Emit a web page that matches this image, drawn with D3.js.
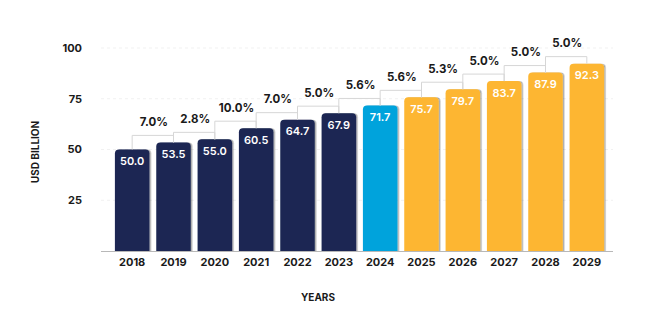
<!DOCTYPE html>
<html>
<head>
<meta charset="utf-8">
<script src="https://cdn.jsdelivr.net/npm/d3@7"></script>
<style>
  body { margin: 0; background: #fff; }
  text { font-family: Inter, "Noto Sans", sans-serif; }
</style>
</head>
<body>
<div class="chart"></div>
<script>
// data
var years = ["2018","2019","2020","2021","2022","2023","2024","2025","2026","2027","2028","2029"];
var values = [50.0, 53.5, 55.0, 60.5, 64.7, 67.9, 71.7, 75.7, 79.7, 83.7, 87.9, 92.3];
var growth = ["7.0%","2.8%","10.0%","7.0%","5.0%","5.6%","5.6%","5.3%","5.0%","5.0%","5.0%"];
var kinds = ["hist","hist","hist","hist","hist","hist","current","forecast","forecast","forecast","forecast","forecast"];
var yTicks = [25, 50, 75, 100];

var colors = {hist: "#1b2653", current: "#00a3dc", forecast: "#fdb632"};

var width = 648, height = 321;

var svg = d3.select(".chart")
            .append("svg")
            .attr("width", width)
            .attr("height", height);

// soft shadow on the bars
var defs = svg.append("defs");
var f = defs.append("filter").attr("id", "sh")
            .attr("x", "-10%").attr("y", "-10%").attr("width", "130%").attr("height", "130%");
f.append("feDropShadow")
 .attr("dx", 1.5).attr("dy", 0).attr("stdDeviation", 0.6)
 .attr("flood-color", "#000").attr("flood-opacity", 0.35);

var x = d3.scaleBand()
          .domain(years)
          .range([111.5, 607.5])
          .paddingInner(0.165)
          .paddingOuter(0.0825);

var y = d3.scaleLinear()
          .domain([0, 100])
          .range([251, 48]);

// gridlines
svg.append("g")
   .selectAll("line")
   .data(yTicks)
   .join("line")
   .attr("x1", 101).attr("x2", 613)
   .attr("y1", d => y(d)).attr("y2", d => y(d))
   .attr("stroke", "#f1f1f1")
   .attr("stroke-dasharray", "3,3");

// y tick labels
svg.append("g")
   .selectAll("text")
   .data(yTicks)
   .join("text")
   .attr("x", 82)
   .attr("y", d => y(d))
   .attr("dy", "0.35em")
   .attr("text-anchor", "end")
   .style("font-size", "11px")
   .style("font-weight", 700)
   .attr("fill", "#1a1a1a")
   .text(d => d);

// bars with rounded tops
function barPath(d, i) {
  var x0 = x(d), w = x.bandwidth(), y0 = y(values[i]), yb = y(0), r = 4;
  return "M" + x0 + "," + yb +
         "V" + (y0 + r) +
         "Q" + x0 + "," + y0 + " " + (x0 + r) + "," + y0 +
         "H" + (x0 + w - r) +
         "Q" + (x0 + w) + "," + y0 + " " + (x0 + w) + "," + (y0 + r) +
         "V" + yb + "Z";
}

svg.append("g")
   .selectAll("path")
   .data(years)
   .join("path")
   .attr("d", barPath)
   .attr("fill", (d, i) => colors[kinds[i]])
   .attr("filter", "url(#sh)");

// value labels inside bars
svg.append("g")
   .selectAll("text")
   .data(years)
   .join("text")
   .attr("x", d => x(d) + x.bandwidth() / 2)
   .attr("y", (d, i) => y(values[i]) + 15.5)
   .attr("text-anchor", "middle")
   .style("font-size", "11px")
   .style("font-weight", 600)
   .attr("fill", "#fff")
   .text((d, i) => values[i].toFixed(1));

// growth brackets
var pairs = growth.map((g, i) => ({g: g, a: years[i], b: years[i + 1], va: values[i], vb: values[i + 1]}));
var cx = d => x(d) + x.bandwidth() / 2;

var br = svg.append("g");
pairs.forEach(function(p) {
  var lvl = y(Math.max(p.va, p.vb)) - 7;
  br.append("path")
    .attr("d", "M" + cx(p.a) + "," + y(p.va) + "V" + lvl + "H" + cx(p.b) + "V" + y(p.vb))
    .attr("fill", "none")
    .attr("stroke", "#d6d6d6")
    .attr("stroke-width", 1);
  br.append("text")
    .attr("x", (cx(p.a) + cx(p.b)) / 2 + 1)
    .attr("y", lvl - 9.5)
    .attr("text-anchor", "middle")
    .style("font-size", "11.5px")
    .style("font-weight", 700)
    .attr("fill", "#1a1a1a")
    .text(p.g);
});

// baseline
svg.append("line")
   .attr("x1", 101).attr("x2", 613)
   .attr("y1", y(0) + 0.5).attr("y2", y(0) + 0.5)
   .attr("stroke", "#b8b8b8");

// x labels
svg.append("g")
   .selectAll("text")
   .data(years)
   .join("text")
   .attr("x", d => cx(d))
   .attr("y", 266)
   .attr("text-anchor", "middle")
   .style("font-size", "11px")
   .style("font-weight", 700)
   .attr("fill", "#1a1a1a")
   .text(d => d);

// axis titles
svg.append("text")
   .attr("x", 318).attr("y", 301)
   .attr("text-anchor", "middle")
   .style("font-size", "10px")
   .style("font-weight", 700)
   .attr("fill", "#1a1a1a")
   .text("YEARS");

svg.append("text")
   .attr("text-anchor", "middle")
   .attr("transform", "translate(39,152)rotate(-90)")
   .style("font-size", "10px")
   .style("font-weight", 700)
   .attr("fill", "#1a1a1a")
   .text("USD BILLION");
</script>
</body>
</html>
